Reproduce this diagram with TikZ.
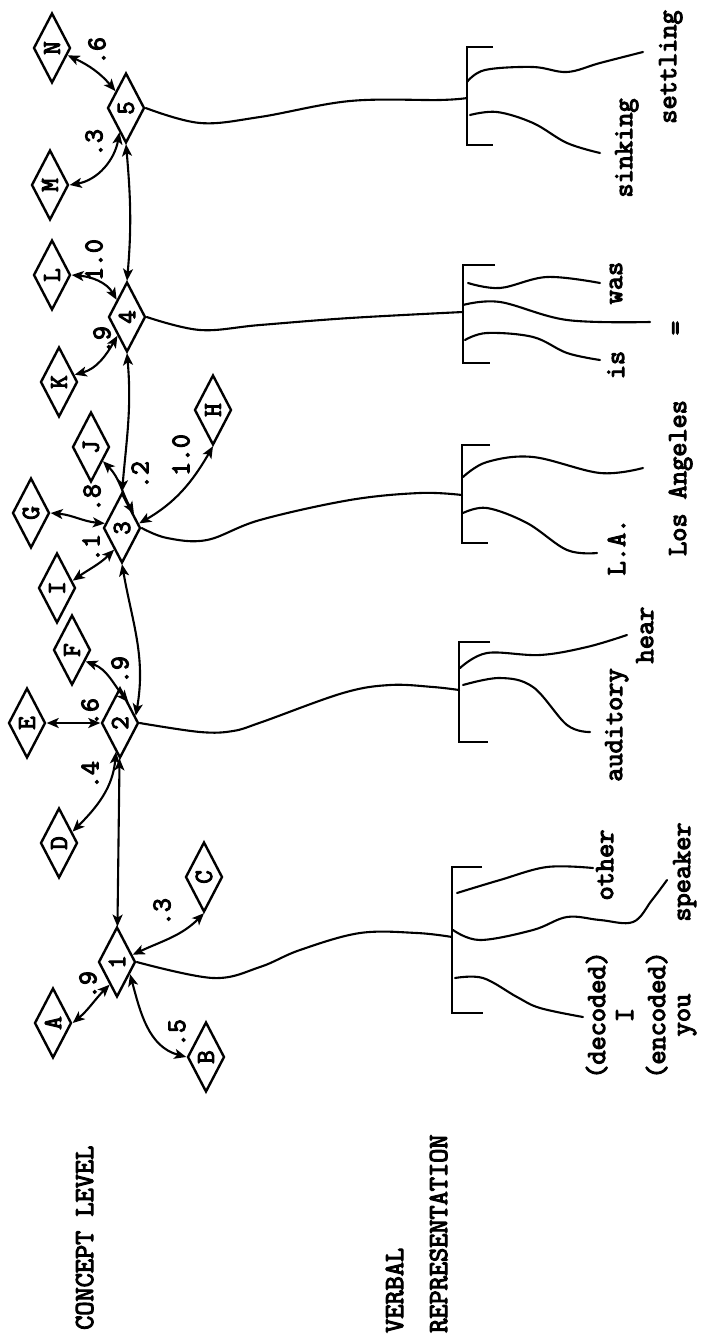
\documentclass[tikz,border=0pt]{standalone}
\usepackage{graphicx}
\usepackage{fontspec}
\newfontfamily\tw{Latin Modern Mono}[FakeBold=4]
\usetikzlibrary{shapes.geometric,arrows.meta}
\begin{document}
\begin{tikzpicture}[x=1pt,y=1pt,
  cn/.style={draw, diamond, line width=2.4pt, minimum width=37pt, minimum height=70pt, inner sep=0pt,
    font=\tw\fontsize{26}{26}\selectfont},
  bi/.style={line width=2.1pt, {Stealth[length=12pt,width=10pt,inset=3pt]}-{Stealth[length=12pt,width=10pt,inset=3pt]}},
  wire/.style={line width=2.1pt, line cap=round},
  brk/.style={line width=2.7pt},
  wt/.style={rotate=90, inner sep=0pt, font=\tw\fontsize{27}{27}\selectfont},
  word/.style={rotate=90, anchor=base, inner sep=0pt, font=\tw\fontsize{27.5}{27.5}\selectfont},
  side/.style={rotate=90, anchor=base west, inner sep=0pt, font=\tw\fontsize{27.5}{27.5}\selectfont}]
\useasboundingbox (0,0) rectangle (701,-1337);

% ---------- concept nodes ----------
\node[cn] (n1) at (117,-962) {\rotatebox{90}{1}};
\node[cn] (A) at (53,-1023) {\rotatebox{90}{A}};
\node[cn] (B) at (206,-1057) {\rotatebox{90}{B}};
\node[cn] (C) at (204,-877) {\rotatebox{90}{C}};
\node[cn] (n2) at (120,-723) {\rotatebox{90}{2}};
\node[cn] (D) at (59,-843) {\rotatebox{90}{D}};
\node[cn] (E) at (27,-723) {\rotatebox{90}{E}};
\node[cn] (F) at (72,-650) {\rotatebox{90}{F}};
\node[cn] (n3) at (122,-528) {\rotatebox{90}{3}};
\node[cn] (G) at (31,-513) {\rotatebox{90}{G}};
\node[cn] (I) at (57,-588) {\rotatebox{90}{I}};
\node[cn] (J) at (91,-447) {\rotatebox{90}{J}};
\node[cn] (H) at (213,-410) {\rotatebox{90}{H}};
\node[cn] (K) at (59,-382) {\rotatebox{90}{K}};
\node[cn] (n4) at (127,-317) {\rotatebox{90}{4}};
\node[cn] (L) at (52,-275) {\rotatebox{90}{L}};
\node[cn] (n5) at (126,-108) {\rotatebox{90}{5}};
\node[cn] (M) at (50,-185) {\rotatebox{90}{M}};
\node[cn] (N) at (52,-48) {\rotatebox{90}{N}};

% ---------- associations ----------
\draw[bi] (n1.252) to[out=225,in=40] (A.east);
\draw[bi] (n1.317) to[out=285,in=165] (B.west);
\draw[bi] (n1.25) to[out=25,in=225] (C.south);
\draw[bi] (n2) -- (n1);
\draw[bi] (n2.262) to[out=265,in=45] (D.40);
\draw[bi] (n2) -- (E);
\draw[bi] (n2.68) to[out=130,in=-20] (F.-40);
\draw[bi] (n2.25) to[out=80,in=280] (n3.south);
\draw[bi] (I.25) to[out=35,in=225] (n3.250);
\draw[bi] (G.east) to[out=-5,in=175] (n3.165);
\draw[bi] (J.-50) to[out=-45,in=120] (n3.50);
\draw[bi] (H.south) to[out=240,in=30] (n3.15);
\draw[bi] (n3.north) to[out=85,in=275] (n4.south);
\draw[bi] (K.25) to[out=15,in=240] (n4.243);
\draw[bi] (L.east) to[out=-5,in=120] (n4.121);
\draw[bi] (n4.north) to[out=85,in=275] (n5.south);
\draw[bi] (M.east) to[out=10,in=260] (n5.255);
\draw[bi] (N.-25) to[out=-25,in=130] (n5.122);

% ---------- weights ----------
\node[wt] (w1) at (88,-985) {.9};
\node[wt] (w2) at (177,-1033) {.5};
\node[wt] (w3) at (162,-912) {.3};
\node[wt] (w4) at (90,-775) {.4};
\node[wt] (w5) at (90,-712) {.6};
\node[wt] (w6) at (120,-670) {.9};
\node[wt] (w7) at (91,-548) {.1};
\node[wt] (w8) at (92,-498) {.8};
\node[wt] (w9) at (140,-475) {.2};
\node[wt] (w10) at (181,-455) {1.0};
\node[wt] (w11) at (102,-340) {.9};
\node[wt] (w12) at (94,-260) {1.0};
\node[wt] (w13) at (94,-143) {.3};
\node[wt] (w14) at (97,-51) {.6};

% ---------- brackets ----------
\coordinate (j5) at (467,-98);
\coordinate (j4) at (463,-312);
\coordinate (j3) at (462,-495);
\coordinate (j2) at (459,-690);
\coordinate (j1) at (452,-937);
\draw[brk] (493,-47) -- (467,-47) -- (467,-145) -- (493,-145);
\draw[brk] (495,-265) -- (463,-265) -- (463,-363) -- (490,-363);
\draw[brk] (490,-445) -- (462,-445) -- (462,-543) -- (488,-543);
\draw[brk] (490,-642) -- (459,-642) -- (459,-742) -- (488,-742);
\draw[brk] (482,-867) -- (452,-867) -- (452,-1013) -- (483,-1013);

% ---------- concept to verbal ----------
\draw[wire] plot[smooth, tension=0.6] coordinates {(n5.east) (200,-123) (260,-117) (350,-101) (440,-100) (j5)};
\draw[wire] plot[smooth, tension=0.6] coordinates {(n4.east) (200,-330) (260,-325) (350,-318) (j4)};
\draw[wire] plot[smooth, tension=0.6] coordinates {(n3.east) (167,-538) (207,-540) (260,-520) (350,-500) (420,-493) (j3)};
\draw[wire] plot[smooth, tension=0.6] coordinates {(n2.east) (200,-732) (233,-731) (262,-722) (343,-693) (390,-685) (433,-687) (j2)};
\draw[wire] plot[smooth, tension=0.6] coordinates {(n1.east) (213,-978) (260,-967) (300,-950) (360,-933) (417,-933) (j1)};

% ---------- branches ----------
\draw[wire] plot[smooth, tension=0.6] coordinates {(467,-82) (485,-70) (533,-67) (567,-72) (600,-63) (643,-52)};
\draw[wire] plot[smooth, tension=0.6] coordinates {(470,-115) (497,-112) (533,-123) (567,-143) (600,-153)};
\draw[wire] plot[smooth, tension=0.6] coordinates {(468,-283) (500,-288) (547,-277) (600,-283)};
\draw[wire] plot[smooth, tension=0.6] coordinates {(463,-305) (500,-302) (567,-320) (650,-322)};
\draw[wire] plot[smooth, tension=0.6] coordinates {(465,-340) (487,-333) (533,-337) (567,-353) (600,-360)};
\draw[wire] plot[smooth, tension=0.6] coordinates {(463,-477) (487,-462) (533,-457) (600,-473) (643,-468)};
\draw[wire] plot[smooth, tension=0.6] coordinates {(463,-513) (487,-508) (527,-523) (567,-550) (597,-553)};
\draw[wire] plot[smooth, tension=0.6] coordinates {(460,-668) (487,-653) (540,-655) (587,-647) (627,-635)};
\draw[wire] plot[smooth, tension=0.6] coordinates {(463,-685) (500,-678) (533,-687) (567,-725) (590,-732)};
\draw[wire] plot[smooth, tension=0.6] coordinates {(457,-893) (500,-880) (547,-867) (593,-868)};
\draw[wire] plot[smooth, tension=0.6] coordinates {(453,-930) (480,-940) (533,-930) (567,-917) (600,-920) (633,-922) (652,-900) (667,-880)};
\draw[wire] plot[smooth, tension=0.6] coordinates {(455,-978) (483,-978) (517,-997) (540,-1008) (583,-1017)};

% ---------- words ----------
\node[word] (settling) at (676,-67) {settling};
\node[word] (sinking) at (632,-148) {sinking};
\node[word] (was) at (622,-283) {was};
\node[word, anchor=center] (eq) at (678,-328) {=};
\node[word] (is) at (624,-365) {is};
\node[word] (losangeles) at (686,-478) {Los Angeles};
\node[word] (la) at (625,-547) {L.A.};
\node[word] (hear) at (653,-635) {hear};
\node[word] (auditory) at (622,-725) {auditory};
\node[word] (other) at (613,-865) {other};
\node[word] (speaker) at (690,-872) {speaker};
\node[word] (decoded) at (605,-1015) {(decoded)};
\node[word] (wI) at (633,-1015) {I};
\node[word] (encoded) at (665,-1015) {(encoded)};
\node[word] (you) at (690,-1015) {you};

% ---------- side labels ----------
\node[side] (concept) at (93,-1330) {CONCEPT LEVEL};
\node[side] (verbal) at (403,-1333) {VERBAL};
\node[side] (repr) at (447,-1333) {REPRESENTATION};
\end{tikzpicture}
\end{document}
